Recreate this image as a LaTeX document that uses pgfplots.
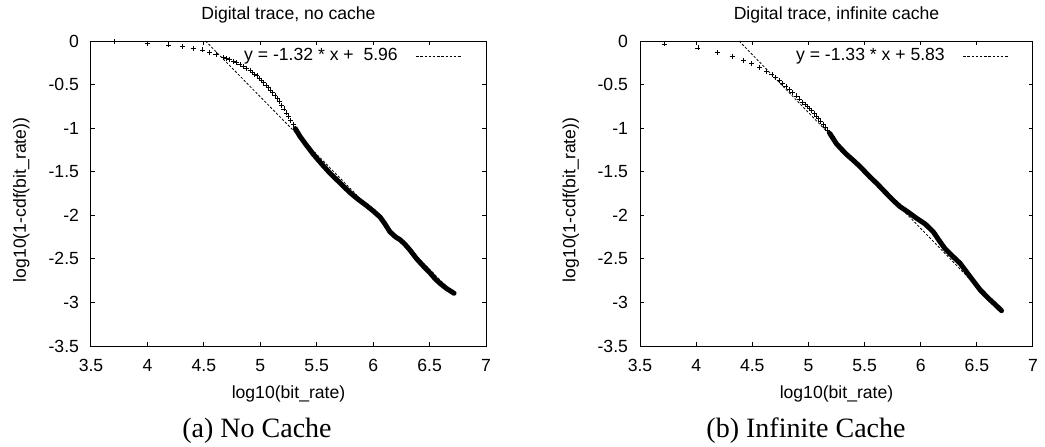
\documentclass[border=0pt]{standalone}
\usepackage{fontspec}
\setmainfont{Liberation Sans}
\newfontfamily\capfont{Liberation Serif}
\usepackage{pgfplots}
\pgfplotsset{compat=1.18}

\pgfplotsset{
  gp/.style={
    scale only axis,
    height=152.5pt,
    xmin=3.5, xmax=7, ymin=-3.5, ymax=0,
    xtick={3.5,4,...,7}, ytick={-3.5,-3,...,0},
    tick pos=both, tick align=inside, major tick length=2.2pt,
    axis line style={line width=0.5pt},
    every tick/.style={black, line width=0.5pt},
    font=\fontsize{8.8}{10.5}\selectfont,
    /pgf/number format/assume math mode=true,
    xticklabel style={yshift=-3pt},
    yticklabel style={xshift=-2.5pt},
    every axis title shift=0pt,
    title style={at={(axis description cs:0.5,1.072)}, anchor=base},
    xlabel style={at={(axis description cs:0.5,-0.1705)}, anchor=base},
    ylabel style={at={(axis description cs:-0.1646,0.479)}, anchor=base, rotate=0},
    xlabel={log10(bit\_rate)},
    ylabel={log10(1-cdf(bit\_rate))},
    clip=false,
    legend style={draw=none, fill=none, at={(axis description cs:1,1)},
      anchor=north east, xshift=-11.5pt, yshift=-1.5pt, inner sep=0pt},
    legend plot pos=right, legend cell align=right,
    legend image code/.code={\draw[#1] (0pt,0pt) -- (23pt,0pt);},
  },
  pts/.style={only marks, mark=+, mark size=1.25pt, mark options={line width=0.4pt, black}, forget plot},
  dense/.style={black, line width=2.5pt, line cap=round, line join=round, forget plot},
  fit/.style={black, line width=0.4pt, dash pattern=on 1.2pt off 0.9pt},
}

\begin{document}
\begin{tikzpicture}
\path[use as bounding box] (0pt,0pt) rectangle (522.5pt,-223pt);

% (a) no cache
\begin{axis}[gp, width=197.5pt, at={(45.5pt,-173pt)}, anchor=south west,
  title={Digital trace, no cache}]
\addplot[pts] coordinates {
 (3.706,-0.005) (4.00,-0.025) (4.185,-0.045) (4.31,-0.062) (4.405,-0.084)
 (4.49,-0.103) (4.548,-0.13) (4.607,-0.155) (4.67,-0.185)
 (4.70,-0.20) (4.73,-0.215) (4.76,-0.232) (4.79,-0.25) (4.82,-0.27)
 (4.85,-0.29) (4.88,-0.315) (4.91,-0.34) (4.93,-0.36) (4.95,-0.38)
 (4.97,-0.40) (4.99,-0.425) (5.01,-0.45) (5.03,-0.475) (5.05,-0.505)
 (5.07,-0.535) (5.09,-0.565) (5.11,-0.595) (5.13,-0.625) (5.15,-0.66)
 (5.17,-0.695) (5.19,-0.735) (5.21,-0.78) (5.23,-0.825) (5.25,-0.87)
 (5.27,-0.915) (5.29,-0.96) (5.31,-1.005) (5.33,-1.05)
};
\addplot[dense] coordinates {
 (5.31,-1.005) (5.352,-1.095) (5.40,-1.18) (5.47,-1.30) (5.55,-1.42)
 (5.62,-1.52) (5.70,-1.62) (5.795,-1.74) (5.87,-1.82) (5.943,-1.89)
 (6.00,-1.95) (6.061,-2.02) (6.10,-2.09) (6.149,-2.19) (6.20,-2.25)
 (6.238,-2.28) (6.28,-2.33) (6.327,-2.40) (6.386,-2.50) (6.45,-2.59)
 (6.504,-2.66) (6.55,-2.73) (6.592,-2.78) (6.65,-2.84) (6.717,-2.895)
};
\addplot[fit] coordinates {(4.515,0) (6.72,-2.91)};
\addlegendentry{y = -1.32 * x +\ \ 5.96\kern7pt}
\end{axis}

% (b) infinite cache
\begin{axis}[gp, width=196.5pt, at={(320pt,-173pt)}, anchor=south west,
  title={Digital trace, infinite cache}]
\addplot[pts] coordinates {
 (3.714,-0.034) (4.016,-0.08) (4.19,-0.13) (4.32,-0.172) (4.42,-0.22)
 (4.495,-0.26) (4.565,-0.30) (4.625,-0.345) (4.675,-0.385)
 (4.71,-0.42) (4.74,-0.455) (4.77,-0.49) (4.80,-0.525) (4.83,-0.56)
 (4.86,-0.595) (4.89,-0.63) (4.92,-0.665) (4.95,-0.70) (4.97,-0.725)
 (4.99,-0.75) (5.01,-0.775) (5.03,-0.80) (5.05,-0.83) (5.07,-0.86)
 (5.09,-0.89) (5.11,-0.92) (5.13,-0.955) (5.15,-0.99) (5.17,-1.025)
 (5.19,-1.06) (5.21,-1.095)
};
\addplot[dense] coordinates {
 (5.19,-1.06) (5.25,-1.18) (5.33,-1.29) (5.40,-1.37) (5.459,-1.44)
 (5.548,-1.56) (5.608,-1.633) (5.68,-1.73) (5.756,-1.83) (5.815,-1.90)
 (5.89,-1.965) (5.964,-2.035) (6.04,-2.10) (6.112,-2.19) (6.17,-2.30)
 (6.215,-2.38) (6.26,-2.44) (6.35,-2.55) (6.44,-2.705) (6.53,-2.857)
 (6.617,-2.97) (6.66,-3.02) (6.72,-3.095)
};
\addplot[fit] coordinates {(4.383,0) (6.72,-3.108)};
\addlegendentry{y = -1.33 * x + 5.83\kern7pt}
\end{axis}

\node[anchor=base, font=\capfont\fontsize{14}{16}\selectfont] at (128.5pt,-218.5pt) {(a) No Cache};
\node[anchor=base, font=\capfont\fontsize{14}{16}\selectfont] at (403pt,-218.5pt) {(b) Infinite Cache};
\end{tikzpicture}
\end{document}
